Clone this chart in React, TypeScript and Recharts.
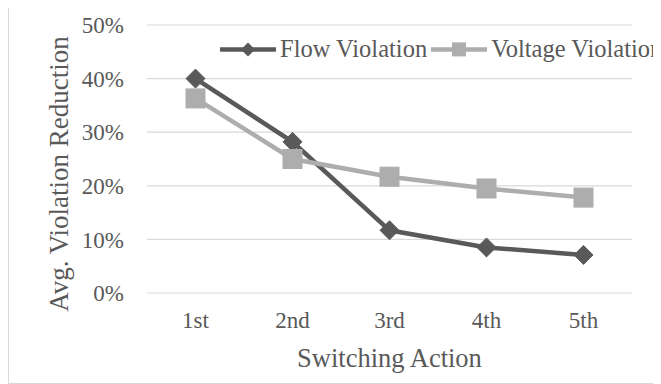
import React from 'react';
import { LineChart, Line, XAxis, YAxis, CartesianGrid, Legend, Label } from 'recharts';

const categories = ['1st', '2nd', '3rd', '4th', '5th'];
const flowViolation = [0.4, 0.282, 0.117, 0.085, 0.071];
const voltageViolation = [0.363, 0.25, 0.217, 0.195, 0.178];
const yTicks = [0, 0.1, 0.2, 0.3, 0.4, 0.5];

const FONT = '"Liberation Serif", "Times New Roman", serif';
const TEXT = '#595959';
const GRID = '#d9d9d9';
const FLOW = '#595959';
const VOLTAGE = '#adadad';

const data = categories.map((name, i) => ({
  name,
  flow: flowViolation[i],
  voltage: voltageViolation[i],
}));

const DiamondDot = (props: any) => {
  const { cx, cy } = props;
  if (cx == null || cy == null) return null;
  const r = 9.5;
  return (
    <path
      d={`M${cx},${cy - r} L${cx + r},${cy} L${cx},${cy + r} L${cx - r},${cy} Z`}
      fill={FLOW}
      stroke={FLOW}
      strokeWidth={1}
    />
  );
};

const SquareDot = (props: any) => {
  const { cx, cy } = props;
  if (cx == null || cy == null) return null;
  const h = 9.5;
  return <rect x={cx - h} y={cy - h} width={h * 2} height={h * 2} fill={VOLTAGE} stroke={VOLTAGE} strokeWidth={1} />;
};

// legend item = short line with the series marker, then its name
const renderLegend = (props: any) => {
  const { payload } = props;
  return (
    <div style={{ display: 'flex', alignItems: 'center', whiteSpace: 'nowrap', fontFamily: FONT, fontSize: 24.5, lineHeight: '24px', color: TEXT }}>
      {payload.map((entry: any) => {
        const isFlow = entry.dataKey === 'flow';
        const c = isFlow ? FLOW : VOLTAGE;
        return (
          <div key={entry.dataKey} style={{ display: 'flex', alignItems: 'center', marginRight: 4 }}>
            <svg width={56} height={24} style={{ display: 'block' }}>
              <line x1={1} y1={12.4} x2={55} y2={12.4} stroke={c} strokeWidth={4.5} strokeLinecap="round" />
              {isFlow ? (
                <path d="M28,5.4 L35,12.4 L28,19.4 L21,12.4 Z" fill={c} />
              ) : (
                <rect x={21} y={5.4} width={14} height={14} fill={c} />
              )}
            </svg>
            <span style={{ marginLeft: 4 }}>{entry.value}</span>
          </div>
        );
      })}
    </div>
  );
};

export default function App() {
  return (
    <div
      style={{
        marginTop: -3,
        width: 653,
        height: 379,
        boxSizing: 'border-box',
        border: `1px solid ${GRID}`,
        background: '#fff',
      }}
    >
      <LineChart width={651} height={377} data={data} margin={{ top: 19, right: 28, bottom: 0, left: 0 }}>
        <CartesianGrid vertical={false} stroke={GRID} strokeWidth={1.2} />
        <XAxis
          dataKey="name"
          height={90}
          axisLine={false}
          tickLine={false}
          padding={{ left: 48.5, right: 48.5 }}
          tickMargin={13}
          tick={{ fill: TEXT, fontSize: 23, fontFamily: FONT }}
        >
          <Label
            value="Switching Action"
            position="center"
            dy={19.6}
            fill={TEXT}
            fontSize={26.5}
            fontFamily={FONT}
          />
        </XAxis>
        <YAxis
          width={138}
          domain={[0, 0.5]}
          ticks={yTicks}
          axisLine={false}
          tickLine={false}
          tickMargin={17}
          tickFormatter={(v: number) => `${Math.round(v * 100)}%`}
          tick={{ fill: TEXT, fontSize: 23, fontFamily: FONT }}
        >
          <Label
            value="Avg. Violation Reduction"
            position="center"
            angle={-90}
            dx={-20}
            dy={15}
            fill={TEXT}
            fontSize={27}
            fontFamily={FONT}
          />
        </YAxis>
        <Legend
          layout="horizontal"
          verticalAlign="middle"
          align="center"
          content={renderLegend}
          wrapperStyle={{ top: 30.6, left: 211, width: 'auto' }}
        />
        <Line
          dataKey="flow"
          name="Flow Violation"
          stroke={FLOW}
          strokeWidth={4.5}
          dot={<DiamondDot />}
          activeDot={false}
          isAnimationActive={false}
        />
        <Line
          dataKey="voltage"
          name="Voltage Violation"
          stroke={VOLTAGE}
          strokeWidth={4.5}
          dot={<SquareDot />}
          activeDot={false}
          isAnimationActive={false}
        />
      </LineChart>
    </div>
  );
}
